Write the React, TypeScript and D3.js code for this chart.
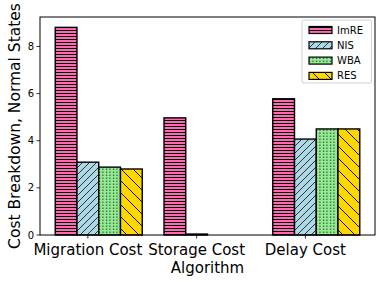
import React from "react";
import * as d3 from "d3";

const categories = ["Migration Cost", "Storage Cost", "Delay Cost"];
const seriesNames = ["ImRE", "NIS", "WBA", "RES"];
const imre = [8.81, 4.97, 5.78];
const nis = [3.09, 0.04, 4.07];
const wba = [2.88, 0, 4.5];
const res = [2.8, 0, 4.5];
const yTicks = [0, 2, 4, 6, 8];

const W = 381, H = 283;
const left = 40, right = 375, top = 17, bottom = 235;
const FONT = "DejaVu Sans, sans-serif";

export default function App() {
  const series = [imre, nis, wba, res];
  const fills = ["#FF69B4", "#ADD8E6", "#90EE90", "#FFD700"];
  const patIds = ["pImre", "pNis", "pWba", "pRes"];
  const bw = 0.2;
  const x = d3.scaleLinear().domain([-0.24, 2.84]).range([left, right]);
  const y = d3.scaleLinear().domain([0, 9.25]).range([bottom, top]);
  const bwPx = x(bw) - x(0);

  return (
    <svg width={W} height={H} style={{ position: "absolute", left: 0, top: 0 }} xmlns="http://www.w3.org/2000/svg">
      <defs>
        <pattern id="pImre" patternUnits="userSpaceOnUse" width="6" height="3">
          <rect width="6" height="3" fill="#FF69B4" />
          <rect y="0" width="6" height="1" fill="#000" />
        </pattern>
        <pattern id="pNis" patternUnits="userSpaceOnUse" width="7" height="7">
          <rect width="7" height="7" fill="#ADD8E6" />
          <path d="M-1,1 l2,-2 M0,7 l7,-7 M6,8 l2,-2" stroke="#222" strokeWidth="0.9" />
        </pattern>
        <pattern id="pWba" patternUnits="userSpaceOnUse" width="3.5" height="3">
          <rect width="3.5" height="3" fill="#90EE90" />
          <rect x="1" y="0.5" width="1" height="1.5" fill="#333" />
        </pattern>
        <pattern id="pRes" patternUnits="userSpaceOnUse" width="12" height="12">
          <rect width="12" height="12" fill="#FFD700" />
          <path d="M-1,-1 l14,14 M-1,11 l2,2 M11,-1 l2,2" stroke="#111" strokeWidth="1" />
        </pattern>
      </defs>
      <rect x={0} y={0} width={W} height={H} fill="#fff" />

      {series.map((vals, j) =>
        vals.map((v, i) => {
          const cx = i + j * bw;
          const x0 = x(cx - bw / 2);
          return (
            <rect
              key={`${j}-${i}`}
              x={x0}
              y={y(v)}
              width={bwPx}
              height={y(0) - y(v)}
              fill={`url(#${patIds[j]})`}
              stroke="#000"
              strokeWidth={1.4}
            />
          );
        })
      )}

      {/* frame */}
      <rect x={left} y={top} width={right - left} height={bottom - top} fill="none" stroke="#000" strokeWidth={1} />

      {/* y ticks */}
      {yTicks.map((t) => (
        <g key={t}>
          <line x1={left - 3.5} x2={left} y1={y(t)} y2={y(t)} stroke="#000" strokeWidth={0.8} />
          <text x={left - 6} y={y(t)} dy="0.35em" textAnchor="end" fontFamily={FONT} fontSize={10} fill="#000">
            {t}
          </text>
        </g>
      ))}

      {/* x ticks */}
      {categories.map((c, i) => (
        <g key={c}>
          <line x1={x(i + bw)} x2={x(i + bw)} y1={bottom} y2={bottom + 3.5} stroke="#000" strokeWidth={0.8} />
          <text x={x(i + bw)} y={bottom + 20} textAnchor="middle" fontFamily={FONT} fontSize={15} fill="#000">
            {c}
          </text>
        </g>
      ))}

      <text x={(left + right) / 2} y={273} textAnchor="middle" fontFamily={FONT} fontSize={15} fill="#000">
        Algorithm
      </text>
      <text
        transform={`translate(20,${(top + bottom) / 2}) rotate(-90)`}
        textAnchor="middle"
        fontFamily={FONT}
        fontSize={15.5}
        fill="#000"
      >
        Cost Breakdown, Normal States
      </text>

      {/* legend */}
      <rect x={302} y={20} width={69.5} height={63} rx={2} fill="#fff" stroke="#ccc" strokeWidth={1} opacity={0.9} />
      {seriesNames.map((n, j) => {
        const ly = 30 + j * 15.3;
        return (
          <g key={n}>
            <rect x={309} y={ly - 3.5} width={23} height={7} fill={`url(#${patIds[j]})`} stroke="#000" strokeWidth={1.2} />
            <text x={337} y={ly} dy="0.35em" fontFamily={FONT} fontSize={10} fill="#000">
              {n}
            </text>
          </g>
        );
      })}
    </svg>
  );
}
